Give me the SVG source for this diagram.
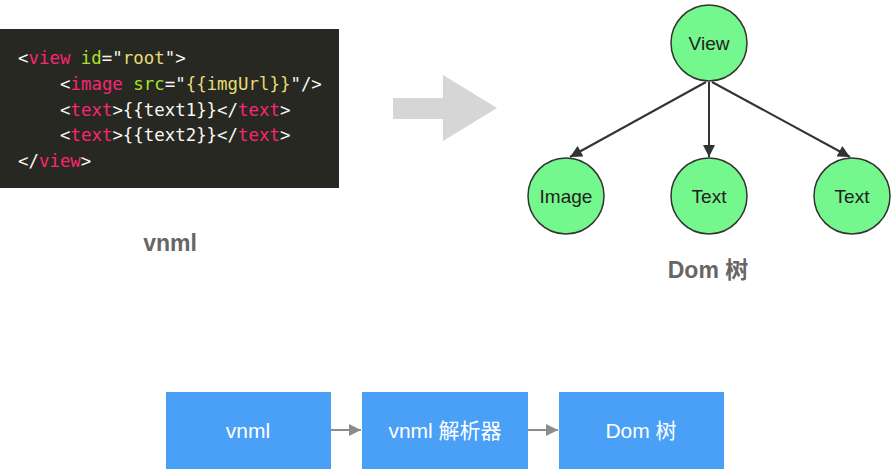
<svg xmlns="http://www.w3.org/2000/svg" width="896" height="469" viewBox="0 0 896 469">
<defs>
<style>
.code{font-family:"DejaVu Sans Mono","Liberation Mono",monospace;font-size:17.4px;white-space:pre}
.w{fill:#f8f8f2}.p{fill:#f92672}.g{fill:#a6e22e}.y{fill:#e6db74}
.node circle{fill:#74f78c;stroke:#333;stroke-width:1.5}
.node text{font-family:"Liberation Sans",Arial,sans-serif;font-size:19px;fill:#222;text-anchor:middle}
.lbl{font-family:"Liberation Sans","Noto Sans CJK SC",sans-serif;font-size:23px;font-weight:bold;fill:#666;text-anchor:middle}
.box rect{fill:#4a9ff6}
.box text{font-family:"Liberation Sans","Noto Sans CJK SC",sans-serif;font-size:21px;fill:#fff;text-anchor:middle}
.edge{stroke:#333;stroke-width:2;fill:none}
.flow{stroke:#8c8c8c;stroke-width:2;fill:none}
</style>
<marker id="ah" viewBox="0 0 10 10" refX="10" refY="5" markerWidth="6.5" markerHeight="6" markerUnits="strokeWidth" orient="auto">
<path d="M0,0 L10,5 L0,10 z" fill="#333"/>
</marker>
<marker id="ag" viewBox="0 0 10 10" refX="10" refY="5" markerWidth="6" markerHeight="6" markerUnits="strokeWidth" orient="auto">
<path d="M0,0 L10,5 L0,10 z" fill="#8c8c8c"/>
</marker>
</defs>
<rect width="896" height="469" fill="#fff"/>
<g id="code">
<rect x="0" y="29" width="339" height="159" fill="#272822"/>
<text class="code" x="18" y="64"><tspan class="w">&lt;</tspan><tspan class="p">view</tspan><tspan class="w"> </tspan><tspan class="g">id</tspan><tspan class="w">="</tspan><tspan class="y">root</tspan><tspan class="w">"&gt;</tspan></text>
<text class="code" x="60" y="90"><tspan class="w">&lt;</tspan><tspan class="p">image</tspan><tspan class="w"> </tspan><tspan class="g">src</tspan><tspan class="w">="</tspan><tspan class="y">{{imgUrl}}</tspan><tspan class="w">"/&gt;</tspan></text>
<text class="code" x="60" y="116"><tspan class="w">&lt;</tspan><tspan class="p">text</tspan><tspan class="w">&gt;{{text1}}&lt;/</tspan><tspan class="p">text</tspan><tspan class="w">&gt;</tspan></text>
<text class="code" x="60" y="141"><tspan class="w">&lt;</tspan><tspan class="p">text</tspan><tspan class="w">&gt;{{text2}}&lt;/</tspan><tspan class="p">text</tspan><tspan class="w">&gt;</tspan></text>
<text class="code" x="18" y="167"><tspan class="w">&lt;/</tspan><tspan class="p">view</tspan><tspan class="w">&gt;</tspan></text>
</g>
<text class="lbl" x="170" y="251">vnml</text>
<g id="bigarrow">
<polygon points="393,98 443,98 443,75 497,108 443,141 443,119 393,119" fill="#d6d6d6"/>
</g>
<g id="connectors">
<line class="edge" x1="706" y1="82" x2="570" y2="157" marker-end="url(#ah)"/>
<line class="edge" x1="709" y1="82" x2="709" y2="157" marker-end="url(#ah)"/>
<line class="edge" x1="712" y1="82" x2="850" y2="157" marker-end="url(#ah)"/>
<line class="flow" x1="331" y1="430" x2="361" y2="430" marker-end="url(#ag)"/>
<line class="flow" x1="528" y1="430" x2="558" y2="430" marker-end="url(#ag)"/>
</g>
<g id="view" class="node"><circle cx="709" cy="43" r="38"/><text x="709" y="50">View</text></g>
<g id="image" class="node"><circle cx="566" cy="196" r="38"/><text x="566" y="203">Image</text></g>
<g id="text1" class="node"><circle cx="709" cy="196" r="38"/><text x="709" y="203">Text</text></g>
<g id="text2" class="node"><circle cx="852" cy="196" r="38"/><text x="852" y="203">Text</text></g>
<text class="lbl" x="708" y="278">Dom 树</text>
<g id="b1" class="box"><rect x="166" y="392" width="165" height="77"/><text x="248" y="438">vnml</text></g>
<g id="b2" class="box"><rect x="362" y="392" width="166" height="77"/><text x="445" y="438">vnml 解析器</text></g>
<g id="b3" class="box"><rect x="559" y="392" width="165" height="77"/><text x="641" y="438">Dom 树</text></g>
</svg>
